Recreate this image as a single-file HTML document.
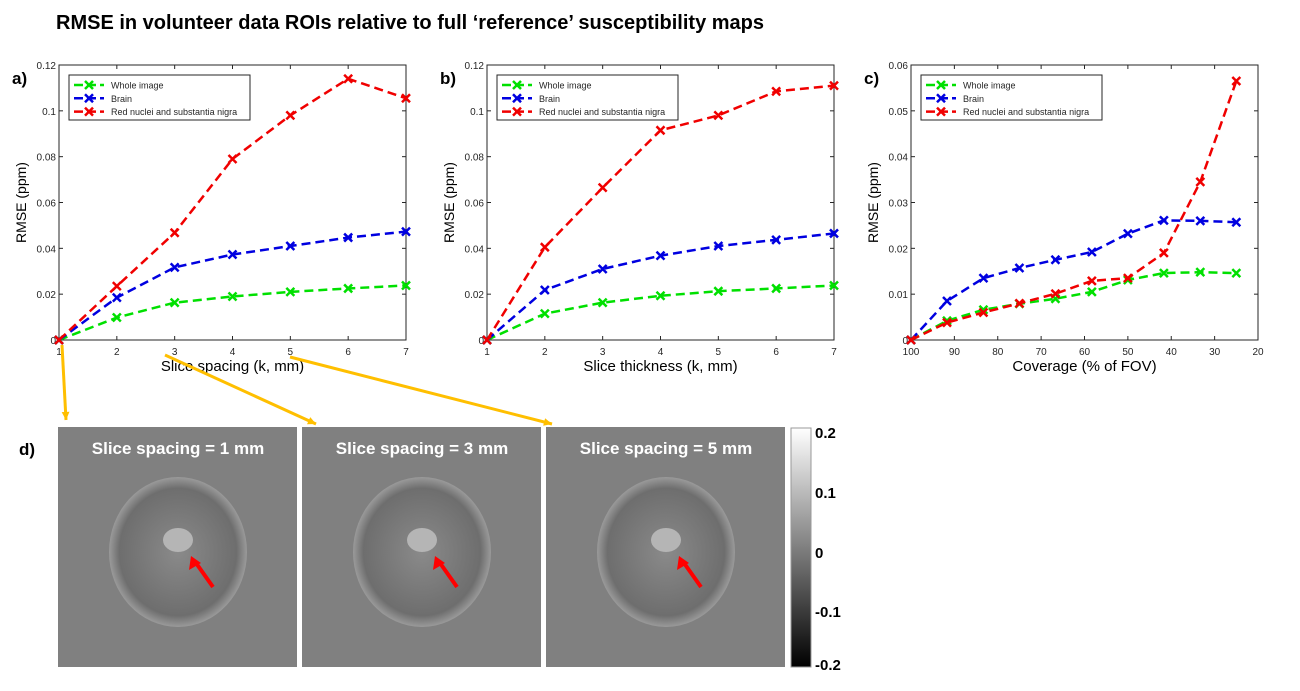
<!DOCTYPE html>
<html><head><meta charset="utf-8"><style>
body{margin:0;background:#fff;width:1300px;height:691px;overflow:hidden;font-family:"Liberation Sans",sans-serif}
svg{position:absolute;left:0;top:0}
</style></head><body>
<svg id="s" width="1300" height="691">
<text x="56" y="29" font-size="20" font-weight="bold">RMSE in volunteer data ROIs relative to full ‘reference’ susceptibility maps</text>
<g id="charts"></g>
<g id="bottom"></g>
</svg>
<script>
const ns="http://www.w3.org/2000/svg";
const svg=document.getElementById('charts');
function mk(t,a,p){const e=document.createElementNS(ns,t);for(const k in a)e.setAttribute(k,a[k]);(p||svg).appendChild(e);return e;}
const seriesNames=["Whole image","Brain","Red nuclei and substantia nigra"];
const seriesColors=["#00e000","#0000e0","#f00000"];
const aX=[1,2,3,4,5,6,7];
const aGreen=[0,0.0098,0.0163,0.019,0.021,0.0225,0.0238];
const aBlue=[0,0.0185,0.0317,0.0373,0.041,0.0447,0.0473];
const aRed=[0,0.0235,0.0468,0.079,0.098,0.114,0.1055];
const bX=[1,2,3,4,5,6,7];
const bGreen=[0,0.0115,0.0163,0.0193,0.0213,0.0225,0.0238];
const bBlue=[0,0.0218,0.031,0.0368,0.041,0.0437,0.0465];
const bRed=[0,0.0405,0.0665,0.0915,0.098,0.1085,0.111];
const cX=[100,91.7,83.3,75,66.7,58.3,50,41.7,33.3,25];
const cGreen=[0,0.0042,0.0066,0.0079,0.009,0.0105,0.0131,0.0146,0.0148,0.0146];
const cBlue=[0,0.0085,0.0135,0.0157,0.0175,0.0192,0.0232,0.0261,0.026,0.0257];
const cRed=[0,0.0038,0.006,0.008,0.0101,0.0129,0.0135,0.019,0.0345,0.0565];
const abXTicks=[1,2,3,4,5,6,7];
const abYTicks=[0,0.02,0.04,0.06,0.08,0.1,0.12];
const abYLabels=["0","0.02","0.04","0.06","0.08","0.1","0.12"];
const cXTicks=[100,90,80,70,60,50,40,30,20];
const cYTicks=[0,0.01,0.02,0.03,0.04,0.05,0.06];
const cYLabels=["0","0.01","0.02","0.03","0.04","0.05","0.06"];

function chart(o){
  const g=mk('g',{});
  const L=o.x0,R=o.x1,T=65,B=340;
  const sx=v=>L+(v-o.xmin)/(o.xmax-o.xmin)*(R-L);
  const sy=v=>B-(v-o.ymin)/(o.ymax-o.ymin)*(B-T);
  mk('rect',{x:L,y:T,width:R-L,height:B-T,fill:'#fff',stroke:'#262626','stroke-width':1},g);
  o.xt.forEach(v=>{const x=sx(v);
    mk('line',{x1:x,x2:x,y1:B,y2:B-4,stroke:'#262626'},g);
    mk('line',{x1:x,x2:x,y1:T,y2:T+4,stroke:'#262626'},g);
    const t=mk('text',{x:x,y:B+15,'font-size':10,'text-anchor':'middle',fill:'#262626'},g);t.textContent=v;
    
    });
  o.yt.forEach((v,i)=>{const y=sy(v);
    mk('line',{x1:L,x2:L+4,y1:y,y2:y,stroke:'#262626'},g);
    mk('line',{x1:R,x2:R-4,y1:y,y2:y,stroke:'#262626'},g);
    const t=mk('text',{x:L-3,y:y+4,'font-size':10,'text-anchor':'end',fill:'#262626'},g);t.textContent=o.yl[i];
    
    });
  o.series.forEach((s,k)=>{
    const pts=o.xs.map((x,i)=>sx(x)+','+sy(s[i])).join(' ');
    const pl=mk('polyline',{points:pts,fill:'none',stroke:seriesColors[k],'stroke-width':2.5,'stroke-dasharray':'9,5'},g);
    
    
    o.xs.forEach((x,i)=>{const cx=sx(x),cy=sy(s[i]);
      const m=mk('path',{d:`M${cx-4},${cy-4}L${cx+4},${cy+4}M${cx-4},${cy+4}L${cx+4},${cy-4}`,stroke:seriesColors[k],'stroke-width':2.5},g);
      
      });
  });
  const lg=mk('g',{},g);
  
  
  mk('rect',{x:L+10,y:T+10,width:181,height:45,fill:'#fff',stroke:'#262626'},lg);
  seriesNames.forEach((n,k)=>{const y=T+20+k*13.3;
    mk('line',{x1:L+15,x2:L+45,y1:y,y2:y,stroke:seriesColors[k],'stroke-width':2.5,'stroke-dasharray':'9,4'},lg);
    mk('path',{d:`M${L+26},${y-4}L${L+34},${y+4}M${L+26},${y+4}L${L+34},${y-4}`,stroke:seriesColors[k],'stroke-width':2.5},lg);
    const t=mk('text',{x:L+52,y:y+3.5,'font-size':9,fill:'#262626'},lg);t.textContent=n;
    
    });
  const xl=mk('text',{x:(L+R)/2,y:371,'font-size':15,'text-anchor':'middle'},g);xl.textContent=o.xlabel;
  
  
  const cy=(T+B)/2,cx=L-33;
  const yl=mk('text',{x:cx,y:cy,'font-size':14,'text-anchor':'middle',transform:`rotate(-90 ${cx} ${cy})`},g);yl.textContent='RMSE (ppm)';
  
  
  const pl=mk('text',{x:L-47,y:84,'font-size':17,'font-weight':'bold'},g);pl.textContent=o.panel;
  
  
}
chart({name:'chart-a',panel:'a)',x0:59,x1:406,xmin:1,xmax:7,ymin:0,ymax:0.12,xs:aX,series:[aGreen,aBlue,aRed],xt:abXTicks,yt:abYTicks,yl:abYLabels,xlabel:'Slice spacing (k, mm)'});
chart({name:'chart-b',panel:'b)',x0:487,x1:834,xmin:1,xmax:7,ymin:0,ymax:0.12,xs:bX,series:[bGreen,bBlue,bRed],xt:abXTicks,yt:abYTicks,yl:abYLabels,xlabel:'Slice thickness (k, mm)'});
chart({name:'chart-c',panel:'c)',x0:911,x1:1258,xmin:100,xmax:20,ymin:0,ymax:0.06,xs:cX,series:[cGreen,cBlue,cRed],xt:cXTicks,yt:cYTicks,yl:cYLabels,xlabel:'Coverage (% of FOV)'});

// bottom panel
const bt=document.getElementById('bottom');
const defs=mk('defs',{},bt);
const gr=mk('linearGradient',{id:'cb',x1:0,y1:0,x2:0,y2:1},defs);
mk('stop',{offset:0,'stop-color':'#fff'},gr);mk('stop',{offset:1,'stop-color':'#000'},gr);
const rg=mk('radialGradient',{id:'br'},defs);
mk('stop',{offset:0,'stop-color':'#8a8a8a'},rg);mk('stop',{offset:0.85,'stop-color':'#6e6e6e'},rg);mk('stop',{offset:1,'stop-color':'#9a9a9a'},rg);
[[62,345,66,420],[165,355,316,424],[290,357,552,424]].forEach(a=>{
  const l=mk('line',{x1:a[0],y1:a[1],x2:a[2],y2:a[3],stroke:'#ffbf00','stroke-width':3},bt);
  
  
  const ang=Math.atan2(a[3]-a[1],a[2]-a[0]);const h=9;
  mk('polygon',{points:`${a[2]},${a[3]} ${a[2]-h*Math.cos(ang-0.45)},${a[3]-h*Math.sin(ang-0.45)} ${a[2]-h*Math.cos(ang+0.45)},${a[3]-h*Math.sin(ang+0.45)}`,fill:'#ffbf00'},bt);
});
const dl=mk('text',{x:19,y:455,'font-size':17,'font-weight':'bold'},bt);dl.textContent='d)';
[58,302,546].forEach((x,i)=>{
  const g=mk('g',{},bt);
  
  
  mk('rect',{x:x,y:427,width:239,height:240,fill:'#808080'},g);
  mk('ellipse',{cx:x+120,cy:552,rx:69,ry:75,fill:'url(#br)'},g);
  mk('ellipse',{cx:x+120,cy:540,rx:15,ry:12,fill:'#b5b5b5'},g);
  const t=mk('text',{x:x+120,y:454,'font-size':17,'font-weight':'bold',fill:'#fff','text-anchor':'middle'},g);
  t.textContent='Slice spacing = '+(i*2+1)+' mm';
  mk('line',{x1:x+155,y1:587,x2:x+138,y2:563,stroke:'#f00','stroke-width':4},g);
  mk('polygon',{points:`${x+133},${556} ${x+131},${570} ${x+143},${563}`,fill:'#f00'},g);
});
const cb=mk('rect',{x:791,y:428,width:20,height:239,fill:'url(#cb)',stroke:'#999'},bt);


[["0.2",435],["0.1",495],["0",555],["-0.1",614],["-0.2",667]].forEach(a=>{
  const t=mk('text',{x:815,y:a[1]+3,'font-size':15,'font-weight':'bold'},bt);t.textContent=a[0];
  
  
});
</script>
</body></html>
